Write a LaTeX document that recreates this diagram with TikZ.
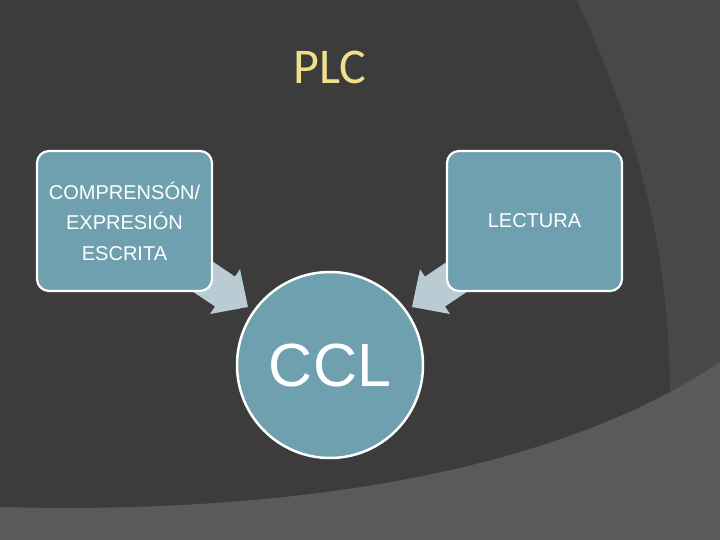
\documentclass[tikz,border=0pt]{standalone}
\usepackage{fontspec}
\setmainfont{Liberation Sans}
\newfontfamily\titlefont{Carlito}
\definecolor{bgdark}{RGB}{60,60,60}
\definecolor{bgmid}{RGB}{72,72,72}
\definecolor{bglight}{RGB}{90,90,90}
\definecolor{boxfill}{RGB}{110,160,176}
\definecolor{arrowfill}{RGB}{185,204,212}
\definecolor{titlecol}{RGB}{240,224,140}
\tikzset{
  boxnode/.style={draw=white, line width=2.2bp, fill=boxfill, rounded corners=12bp,
    minimum width=175bp, minimum height=140bp, inner sep=0pt, align=center,
    text=white, font=\fontsize{20bp}{30.5bp}\selectfont},
  blockarrow/.style={fill=arrowfill, draw=none},
}
\begin{document}
\begin{tikzpicture}[x=1bp,y=-1bp]
  % background
  \fill[bgdark] (0,0) rectangle (720,540);
  \fill[bgmid] (577,0) .. controls (640,140) and (690,280) .. (662,540) -- (720,540) -- (720,0) -- cycle;
  \fill[bglight] (0,507) .. controls (300,515) and (560,470) .. (720,362) -- (720,540) -- (0,540) -- cycle;
  % title
  \node[text=titlecol, font=\titlefont\fontsize{50bp}{60bp}\selectfont, anchor=base, inner sep=0pt] (title) at (330,84) {PLC};
  % block arrows
  \fill[blockarrow] (171.6,277.4) -- (191.6,247.4) -- (235,276.6) -- (240,269.2) -- (248,307) -- (210,314) -- (215,306.5) -- cycle;
  \fill[blockarrow] (488.4,277.4) -- (468.4,247.4) -- (425,276.6) -- (420,269.2) -- (412,307) -- (450,314) -- (445,306.5) -- cycle;
  % boxes
  \node[boxnode] (left) at (124.5,221) {COMPRENSÓN/\\EXPRESIÓN\\ESCRITA};
  \node[boxnode] (right) at (534.5,221) {LECTURA};
  % circle
  \node[circle, draw=white, line width=2.5bp, fill=boxfill, minimum size=186bp, inner sep=0pt,
        text=white, font=\fontsize{61bp}{70bp}\selectfont] (ccl) at (330,365) {CCL};
\end{tikzpicture}
\end{document}
